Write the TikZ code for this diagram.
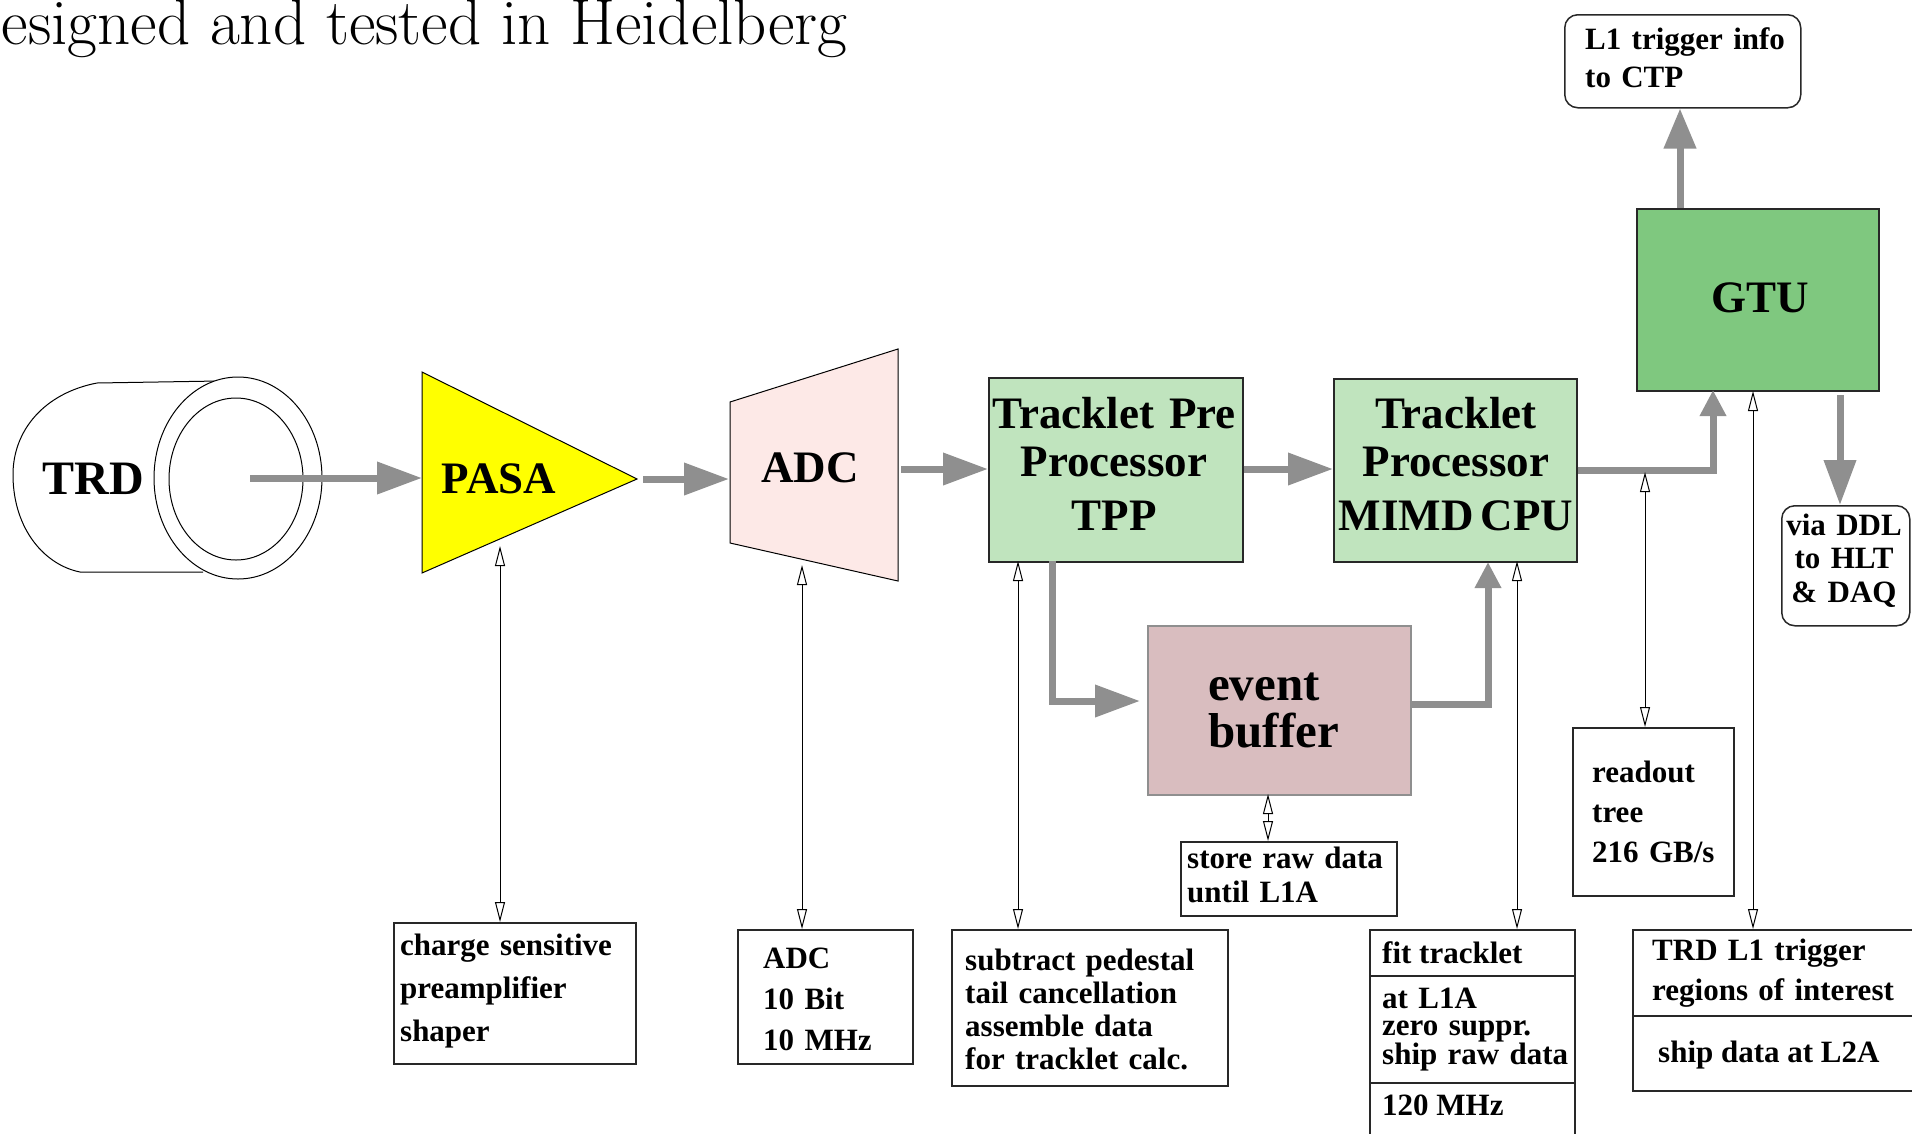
\documentclass[tikz,border=0pt]{standalone}
\usepackage{fontspec}
\newfontfamily\tb{Liberation Serif}
\usetikzlibrary{arrows.meta,calc}

\definecolor{flowgray}{RGB}{143,143,143}
\definecolor{pasayellow}{RGB}{255,255,0}
\definecolor{adcpink}{RGB}{253,233,231}
\definecolor{procgreen}{RGB}{192,228,190}
\definecolor{gtugreen}{RGB}{127,200,127}
\definecolor{bufrose}{RGB}{217,189,191}
\definecolor{edge}{RGB}{40,40,40}

\begin{document}
\begin{tikzpicture}[x=1pt,y=-1pt,
  bigtxt/.style={font=\tb\bfseries\fontsize{45}{48}\selectfont, inner sep=0pt},
  smalltxt/.style={font=\tb\bfseries\fontsize{31}{40}\selectfont, inner sep=0pt,
                   align=left},
  flow/.style={draw=flowgray, line width=7pt},
  headL/.style={-{Triangle[length=45pt,width=31pt]}},
  headS/.style={-{Triangle[length=26pt,width=25pt]}},
  link/.style={draw=black, line width=1pt,
     {Triangle[length=20pt,width=10pt,fill=white,line width=1pt]}-{Triangle[length=20pt,width=10pt,fill=white,line width=1pt]}},
  infobox/.style={draw=edge, line width=1.5pt, inner sep=0pt, anchor=north west},
  procbox/.style={draw=edge, line width=1.5pt, fill=procgreen, inner sep=0pt, anchor=north west},
  roundbox/.style={draw=edge, line width=1.5pt, rounded corners=13pt, inner sep=0pt, anchor=north west}
]
\useasboundingbox (0,0) rectangle (1912,1133);

% heading line running off the left edge
\node[font=\fontsize{65}{68}\selectfont, anchor=base east, inner sep=0pt] (heading)
  at (848,44) {esigned and tested in Heidelberg};

% ---------- TRD cylinder ----------
\draw[line width=1pt] (219,381) -- (97,383)
  .. controls (45,393) and (12,430) .. (13,477)
  .. controls (14,530) and (45,565) .. (80,572) -- (203,572);
\draw[line width=1pt, fill=white] (238,478) ellipse [x radius=84, y radius=101];
\draw[line width=1pt] (236,479) ellipse [x radius=67, y radius=81];
\node[font=\tb\bfseries\fontsize{48}{50}\selectfont, inner sep=0pt, anchor=base] (trd) at (93,494) {TRD};
\coordinate (trdcore) at (250,478);

% ---------- PASA ----------
\draw[line width=1pt, fill=pasayellow] (422,372) -- (637,479) -- (422,573) -- cycle;
\coordinate (pasaW) at (422,478);
\coordinate (pasaE) at (643,479);
\coordinate (pasaS) at (500,546);
\node[bigtxt, anchor=base] (pasa) at (499,493) {PASA};

% ---------- ADC ----------
\draw[line width=1pt, fill=adcpink] (730,402) -- (898,349) -- (898,581) -- (730,543) -- cycle;
\coordinate (adcW) at (729,479);
\coordinate (adcE) at (901,469);
\coordinate (adcS) at (802,565);
\node[bigtxt, anchor=base] (adc) at (810,482) {ADC};

% ---------- processor boxes ----------
\node[procbox, minimum width=254pt, minimum height=184pt] (tpp) at (988,377) {};
\node[bigtxt, align=center, text width=252pt, anchor=base] (tpptxt)
  at (1114,428) {Tracklet Pre\\Processor\\[6pt]TPP};

\node[procbox, minimum width=243pt, minimum height=183pt] (tp) at (1333,378) {};
\node[bigtxt, align=center, text width=241pt, anchor=base] (tptxt)
  at (1456,428) {Tracklet\\Processor\\[6pt]MIMD\,CPU};

\node[procbox, fill=gtugreen, minimum width=242pt, minimum height=182pt] (gtu) at (1636,208) {};
\node[bigtxt, anchor=base] (gtutxt) at (1760,312) {GTU};

\node[procbox, draw=flowgray, fill=bufrose, minimum width=263pt, minimum height=169pt] (buf) at (1147,625) {};
\node[font=\tb\bfseries\fontsize{49}{47}\selectfont, inner sep=0pt, align=left, text width=150pt, anchor=base west] (buftxt)
  at (1208,700) {event\\buffer};

% ---------- output boxes ----------
\node[roundbox, minimum width=236pt, minimum height=93pt] (ctp) at (1564,14) {};
\node[smalltxt, font=\tb\bfseries\fontsize{31}{38}\selectfont, text width=205pt, anchor=base west] (ctptxt)
  at (1585,49) {L1 trigger info\\to CTP};

\node[roundbox, minimum width=128pt, minimum height=120pt] (ddl) at (1781,505) {};
\node[smalltxt, font=\tb\bfseries\fontsize{31}{33.5}\selectfont, align=center, text width=120pt, anchor=base] (ddltxt)
  at (1844,535) {via DDL\\to HLT\\\& DAQ};

% ---------- annotation boxes ----------
\node[infobox, minimum width=242pt, minimum height=141pt] (chg) at (393,922) {};
\node[smalltxt, font=\tb\bfseries\fontsize{31}{43}\selectfont, text width=225pt, anchor=base west] (chgtxt)
  at (400,955) {charge sensitive\\preamplifier\\shaper};

\node[infobox, minimum width=175pt, minimum height=134pt] (adcinfo) at (737,929) {};
\node[smalltxt, font=\tb\bfseries\fontsize{31}{41}\selectfont, text width=130pt, anchor=base west] (adcinfotxt)
  at (763,968) {ADC\\10 Bit\\10 MHz};

\node[infobox, minimum width=276pt, minimum height=156pt] (tppinfo) at (951,929) {};
\node[smalltxt, font=\tb\bfseries\fontsize{31}{33}\selectfont, text width=255pt, anchor=base west] (tppinfotxt)
  at (965,970) {subtract pedestal\\tail cancellation\\assemble data\\for tracklet calc.};

\node[infobox, minimum width=216pt, minimum height=74pt] (store) at (1180,841) {};
\node[smalltxt, font=\tb\bfseries\fontsize{31}{34}\selectfont, text width=200pt, anchor=base west] (storetxt)
  at (1187,868) {store raw data\\until L1A};

\node[infobox, minimum width=161pt, minimum height=168pt] (tree) at (1572,727) {};
\node[smalltxt, font=\tb\bfseries\fontsize{31}{40}\selectfont, text width=130pt, anchor=base west] (treetxt)
  at (1592,782) {readout\\tree\\216 GB/s};

\node[infobox, minimum width=205pt, minimum height=220pt] (fit) at (1369,929) {};
\draw[draw=edge, line width=1.5pt] (fit.west |- 0,976) -- (fit.east |- 0,976);
\draw[draw=edge, line width=1.5pt] (fit.west |- 0,1083) -- (fit.east |- 0,1083);
\node[smalltxt, anchor=base west] (fittxt1) at (1382,963) {fit tracklet};
\node[smalltxt, font=\tb\bfseries\fontsize{31}{27.5}\selectfont, text width=215pt, anchor=base west] (fittxt2)
  at (1382,1008) {at L1A\\zero suppr.\\ship raw data};
\node[smalltxt, anchor=base west] (fittxt3) at (1382,1115) {120 MHz};

\node[infobox, minimum width=300pt, minimum height=161pt] (trig) at (1632,929) {};
\draw[draw=edge, line width=1.5pt] (trig.west |- 0,1016) -- (trig.east |- 0,1016);
\node[smalltxt, font=\tb\bfseries\fontsize{31}{40}\selectfont, text width=255pt, anchor=base west] (trigtxt1)
  at (1652,960) {TRD L1 trigger\\regions of interest};
\node[smalltxt, anchor=base west] (trigtxt2) at (1658,1062) {ship data at L2A};

% ---------- main data flow ----------
\draw[flow, headL] (trdcore) -- (pasaW);
\draw[flow, headL] (pasaE) -- (adcW);
\draw[flow, headL] (adcE) -- (tpp.west |- adcE);
\draw[flow, headL] (tpp.east |- adcE) -- (tp.west |- adcE);
\coordinate (tpout) at (tp.east |- 0,470);
\coordinate (gtuin) at (1713,390);
\draw[flow, headS] (tpout) -| (gtuin);
\coordinate (gtuup) at (1680,208);
\draw[flow, -{Triangle[length=40pt,width=31pt]}] (gtuup) -- (ctp.south -| gtuup);
\coordinate (gtudown) at (1840,395);
\draw[flow, headL] (gtudown) -- (ddl.north -| gtudown);
\coordinate (tppdown) at (1052,561);
\coordinate (bufin) at (1140,701);
\draw[flow, headL] (tppdown) |- (bufin);
\coordinate (bufout) at (1410,704);
\coordinate (tpin) at (1488,562);
\draw[flow, headS] (bufout) -| (tpin);

% ---------- control / readout links ----------
\coordinate (tpptap) at (1018,561);
\coordinate (tptap) at (1517,561);
\coordinate (buftap) at (1268,794);
\coordinate (treetap) at (1645,472);
\coordinate (gtutap) at (1753,391);
\draw[link] (pasaS) -- (pasaS |- chg.north);
\draw[link] (adcS) -- (adcS |- adcinfo.north);
\draw[link] (tpptap) -- (tpptap |- tppinfo.north);
\draw[link] (tptap) -- (tptap |- fit.north);
\draw[link] (buftap) -- (buftap |- store.north);
\draw[link] (treetap) -- (treetap |- tree.north);
\draw[link] (gtutap) -- (gtutap |- trig.north);
\end{tikzpicture}
\end{document}
